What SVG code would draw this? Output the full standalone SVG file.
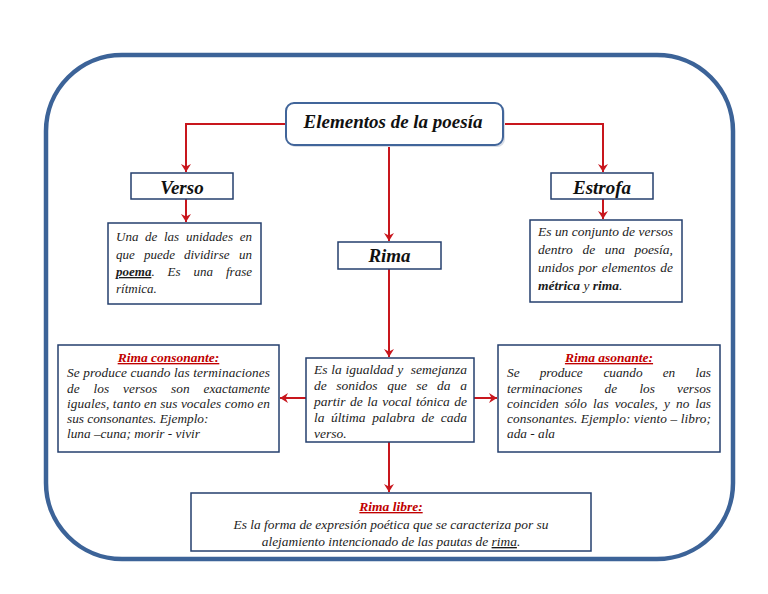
<svg xmlns="http://www.w3.org/2000/svg" width="768" height="594" viewBox="0 0 768 594">
<defs>
<style>
.frame{fill:none;stroke:#3C6398;stroke-width:4.5}
.box{fill:#fff;stroke:#243F6E;stroke-width:1.5}
.tbox{fill:#fff;stroke:#41659A;stroke-width:2}
.shadow{fill:#d8dde6}
.con{fill:none;stroke:#C8161D;stroke-width:2}
text{font-family:'Liberation Serif','Times New Roman','DejaVu Serif',serif}
.h{font-weight:bold;font-style:italic;font-size:19px;fill:#111;text-anchor:middle}
.b{font-style:italic;font-size:13.3px;fill:#1c1c1c}
.sub{font-style:italic;font-weight:bold;font-size:13.5px;fill:#C00000;text-anchor:middle;text-decoration:underline}
.bd{font-weight:bold}
.e{text-anchor:end}
</style>
<marker id="arr" viewBox="0 0 8 10" refX="8" refY="5" markerWidth="8" markerHeight="10" markerUnits="userSpaceOnUse" orient="auto">
<path d="M0,0 L8,5 L0,10 L2.5,5 Z" fill="#C8161D"/>
</marker>
</defs>
<rect width="768" height="594" fill="#fff"/>
<rect class="frame" x="46" y="55" width="687" height="504" rx="76" ry="76"/>

<g id="connectors">
<path class="con" d="M286,124 H186 V172" marker-end="url(#arr)"/>
<path class="con" d="M503,124 H603 V172" marker-end="url(#arr)"/>
<path class="con" d="M389,145 V241" marker-end="url(#arr)"/>
<path class="con" d="M186,199 V222" marker-end="url(#arr)"/>
<path class="con" d="M603,199 V219" marker-end="url(#arr)"/>
<path class="con" d="M389,269 V357" marker-end="url(#arr)"/>
<path class="con" d="M306,398 H280" marker-end="url(#arr)"/>
<path class="con" d="M474,398 H497" marker-end="url(#arr)"/>
<path class="con" d="M389,442 V492" marker-end="url(#arr)"/>
</g>

<g id="titulo">
<rect class="shadow" x="288" y="105" width="217" height="42" rx="8"/>
<rect class="tbox" x="286" y="103" width="217" height="42" rx="8"/>
<text class="h" x="393" y="128">Elementos de la poesía</text>
</g>

<g id="verso">
<rect class="box" x="131" y="173" width="102" height="26"/>
<text class="h" x="182" y="194">Verso</text>
</g>

<g id="estrofa">
<rect class="box" x="551" y="173" width="102" height="26"/>
<text class="h" x="602" y="194">Estrofa</text>
</g>

<g id="rima">
<rect class="box" x="338" y="242" width="103" height="27"/>
<text class="h" x="389.5" y="262">Rima</text>
</g>

<g id="verso-def">
<rect class="box" x="108" y="223" width="153" height="81"/>
<text class="b" style="font-size:13px" y="241"><tspan x="116">Una</tspan><tspan x="145">de</tspan><tspan x="164">las</tspan><tspan x="186">unidades</tspan><tspan x="252" class="e">en</tspan></text>
<text class="b" style="font-size:13px" y="258.5"><tspan x="116">que</tspan><tspan x="144">puede</tspan><tspan x="184">dividirse</tspan><tspan x="252" class="e">un</tspan></text>
<text class="b" style="font-size:13px" y="276"><tspan x="116" class="bd" text-decoration="underline">poema</tspan><tspan>.</tspan><tspan x="167.6">Es</tspan><tspan x="193.6">una</tspan><tspan x="252" class="e">frase</tspan></text>
<text class="b" style="font-size:13px" x="116" y="293">rítmica.</text>
</g>

<g id="estrofa-def">
<rect class="box" x="530" y="220" width="152" height="82"/>
<text class="b" style="font-size:13.5px" x="538" y="236" textLength="135" lengthAdjust="spacing">Es un conjunto de versos</text>
<text class="b" style="font-size:13.5px" y="254"><tspan x="538">dentro</tspan><tspan x="582.6">de</tspan><tspan x="604.7">una</tspan><tspan x="673" class="e">poesía,</tspan></text>
<text class="b" style="font-size:13.5px" y="272"><tspan x="538">unidos</tspan><tspan x="578.5">por</tspan><tspan x="601.7">elementos</tspan><tspan x="673" class="e">de</tspan></text>
<text class="b" style="font-size:13.5px" x="538" y="290"><tspan class="bd">métrica</tspan> y <tspan class="bd">rima</tspan>.</text>
</g>

<g id="rima-def">
<rect class="box" x="306" y="358" width="168" height="84"/>
<text class="b" style="font-size:13.5px" y="374"><tspan x="314">Es</tspan><tspan x="331.3">la</tspan><tspan x="345.5">igualdad</tspan><tspan x="397.3">y</tspan><tspan x="467" class="e">semejanza</tspan></text>
<text class="b" style="font-size:13.5px" y="390"><tspan x="314">de</tspan><tspan x="336.3">sonidos</tspan><tspan x="387.2">que</tspan><tspan x="416.3">se</tspan><tspan x="437.1">da</tspan><tspan x="467" class="e">a</tspan></text>
<text class="b" style="font-size:13.5px" y="406"><tspan x="314">partir</tspan><tspan x="350">de</tspan><tspan x="367.2">la</tspan><tspan x="382.2">vocal</tspan><tspan x="415.9">tónica</tspan><tspan x="467" class="e">de</tspan></text>
<text class="b" style="font-size:13.5px" y="422"><tspan x="314">la</tspan><tspan x="331.1">última</tspan><tspan x="372.2">palabra</tspan><tspan x="421.5">de</tspan><tspan x="467" class="e">cada</tspan></text>
<text class="b" style="font-size:13.5px" x="314" y="438">verso.</text>
</g>

<g id="rima-consonante">
<rect class="box" x="58" y="345" width="221" height="107"/>
<text class="sub" x="168.5" y="362">Rima consonante:</text>
<text class="b" x="67" y="377" textLength="203" lengthAdjust="spacing">Se produce cuando las terminaciones</text>
<text class="b" y="393"><tspan x="67">de</tspan><tspan x="93.6">los</tspan><tspan x="123.1">versos</tspan><tspan x="171.1">son</tspan><tspan x="270" class="e">exactamente</tspan></text>
<text class="b" x="67" y="408" textLength="203" lengthAdjust="spacing">iguales, tanto en sus vocales como en</text>
<text class="b" x="67" y="423">sus consonantes. Ejemplo:</text>
<text class="b" x="67" y="438">luna –cuna; morir - vivir</text>
</g>

<g id="rima-asonante">
<rect class="box" x="498" y="345" width="222" height="107"/>
<text class="sub" x="609" y="362">Rima asonante:</text>
<text class="b" y="377"><tspan x="507">Se</tspan><tspan x="539.7">produce</tspan><tspan x="603.4">cuando</tspan><tspan x="662.7">en</tspan><tspan x="711" class="e">las</tspan></text>
<text class="b" y="393"><tspan x="507">terminaciones</tspan><tspan x="604.6">de</tspan><tspan x="639.4">los</tspan><tspan x="711" class="e">versos</tspan></text>
<text class="b" y="408"><tspan x="507">coinciden</tspan><tspan x="564.8">sólo</tspan><tspan x="593.1">las</tspan><tspan x="614.7">vocales,</tspan><tspan x="664">y</tspan><tspan x="676">no</tspan><tspan x="711" class="e">las</tspan></text>
<text class="b" x="507" y="423" textLength="204" lengthAdjust="spacing">consonantes. Ejemplo: viento – libro;</text>
<text class="b" x="507" y="438">ada - ala</text>
</g>

<g id="rima-libre">
<rect class="box" x="191" y="493" width="400" height="58"/>
<text class="sub" x="391" y="511">Rima libre:</text>
<text class="b" style="font-size:13.4px;text-anchor:middle" x="391" y="528.5">Es la forma de expresión poética que se caracteriza por su</text>
<text class="b" style="font-size:13.4px;text-anchor:middle" x="391" y="546">alejamiento intencionado de las pautas de <tspan text-decoration="underline">rima</tspan>.</text>
</g>
</svg>
